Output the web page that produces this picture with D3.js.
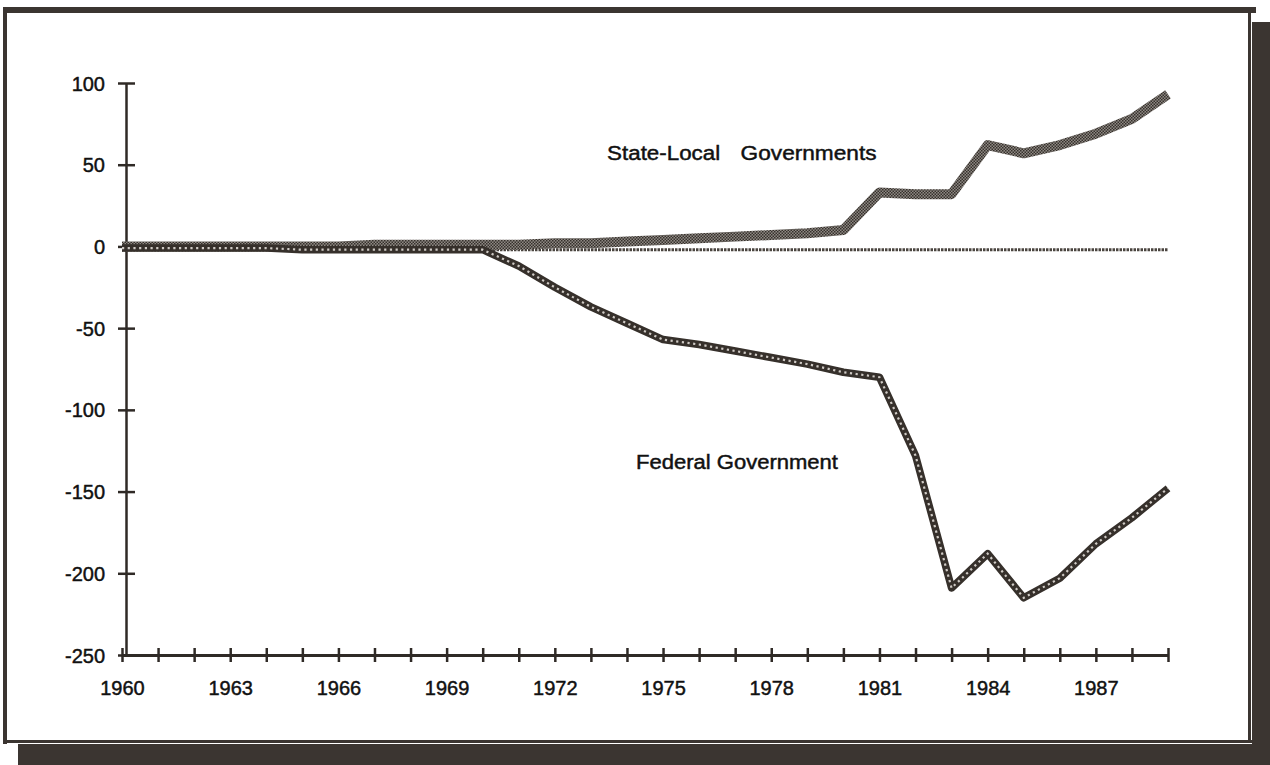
<!DOCTYPE html>
<html>
<head>
<meta charset="utf-8">
<script src="https://cdn.jsdelivr.net/npm/d3@7"></script>
<style>
  html, body { margin: 0; padding: 0; background: #ffffff; }
  svg { display: block; }
  text { font-family: "Liberation Sans", Arial, Helvetica, sans-serif; fill: #111; }
</style>
</head>
<body>
<svg id="chart" width="1270" height="765"></svg>
<script>
// ---- data (billions of dollars) ----
const years = d3.range(1960, 1990);
const federal = [-1, -1, -1, -1, -1, -2, -2, -2, -2, -2,
                 -2, -12, -25, -37, -47, -57, -60, -64, -68, -72,
                 -77, -80, -128, -209, -188, -215, -203, -182, -166, -148];
const stateLocal = [0, 0, 0, 0, 0, 0, 0, 1, 1, 1,
                    1, 1, 2, 2, 3, 4, 5, 6, 7, 8,
                    10, 33, 32, 32, 62, 57, 62, 69, 78, 93];
const referenceLine = [-2, -2];           // thin near-zero line, start/end
const referenceYears = [1960, 1989];
const yTicks = [100, 50, 0, -50, -100, -150, -200, -250];
const xLabelYears = [1960, 1963, 1966, 1969, 1972, 1975, 1978, 1981, 1984, 1987];
const seriesLabels = [
  { text: "State-Local", year: 1973.45, value: 53, len: 113 },
  { text: "Governments", year: 1977.15, value: 53, len: 136 },
  { text: "Federal Government", year: 1974.25, value: -136, len: 202 }
];

// ---- layout ----
const svg = d3.select("#chart");
const x = d3.scaleLinear().domain([1960, 1989]).range([122, 1168]);
const y = d3.scaleLinear().domain([-250, 100]).range([655, 83]);
const frameColor = "#3b3531";
const textStyle = sel => sel
  .style("font-size", "20px")
  .style("font-family", "'Liberation Sans', Arial, sans-serif")
  .attr("fill", "#111").attr("stroke", "#111").attr("stroke-width", 0.45);

// ---- frame (scanned page border) ----
svg.append("rect").attr("x", 5).attr("y", 7).attr("width", 1251).attr("height", 6).attr("fill", frameColor);
svg.append("rect").attr("x", 3).attr("y", 7).attr("width", 4).attr("height", 737).attr("fill", frameColor);
svg.append("rect").attr("x", 3).attr("y", 740).attr("width", 1252).attr("height", 3).attr("fill", frameColor);
svg.append("rect").attr("x", 18).attr("y", 744).attr("width", 1252).attr("height", 21).attr("fill", frameColor);
svg.append("rect").attr("x", 1252).attr("y", 22).attr("width", 18).attr("height", 743).attr("fill", frameColor);
svg.append("rect").attr("x", 1248).attr("y", 12).attr("width", 3).attr("height", 730).attr("fill", frameColor);

// ---- patterns ----
const defs = svg.append("defs");
const pat = defs.append("pattern").attr("id", "checker")
  .attr("patternUnits", "userSpaceOnUse").attr("width", 3).attr("height", 3);
pat.append("rect").attr("width", 3).attr("height", 3).attr("fill", "#8f8984");
pat.append("rect").attr("width", 1.5).attr("height", 1.5).attr("fill", "#36312c");
pat.append("rect").attr("x", 1.5).attr("y", 1.5).attr("width", 1.5).attr("height", 1.5).attr("fill", "#36312c");

// ---- axes ----
const yAxis = d3.axisLeft(y).tickValues(yTicks).tickSize(0).tickPadding(0).tickFormat(d => String(d));
const gy = svg.append("g").attr("transform", `translate(${x(1960) + 4},0)`).call(yAxis);
gy.select(".domain").attr("stroke", "#2f2a26").attr("stroke-width", 2.5);
gy.selectAll(".tick line").remove();
gy.selectAll(".tick").append("line")
  .attr("x1", -8).attr("x2", 9).attr("stroke", "#2f2a26").attr("stroke-width", 2.5);
gy.selectAll(".tick text").attr("x", -21).attr("dy", "0.35em").call(textStyle);

const xAxis = d3.axisBottom(x).tickValues(years).tickSize(0).tickPadding(0)
  .tickFormat(d => xLabelYears.includes(d) ? String(d) : "");
const gx = svg.append("g").attr("transform", `translate(0,${y(-250)})`).call(xAxis);
gx.select(".domain").attr("stroke", "#2f2a26").attr("stroke-width", 3);
gx.selectAll(".tick line").remove();
gx.selectAll(".tick").append("line")
  .attr("y1", -7).attr("y2", 7).attr("stroke", "#2f2a26").attr("stroke-width", 2.5);
gx.selectAll(".tick text").attr("y", 40).attr("dy", 0).call(textStyle);

// ---- reference line near zero ----
const refData = referenceYears.map((yr, i) => ({ yr, v: referenceLine[i] }));
svg.append("path").datum(refData)
  .attr("d", d3.line().x(d => x(d.yr)).y(d => y(d.v)))
  .attr("fill", "none").attr("stroke", "#4a443f").attr("stroke-width", 3)
  .attr("stroke-dasharray", "2.5 1");

// ---- series ----
const fedData = years.map((yr, i) => ({ yr, v: federal[i] }));
const slData = years.map((yr, i) => ({ yr, v: stateLocal[i] }));
const line = d3.line().x(d => x(d.yr)).y(d => y(d.v));

// state-local (checkered grey thick line)
svg.append("path").datum(slData)
  .attr("d", line).attr("fill", "none")
  .attr("stroke", "url(#checker)").attr("stroke-width", 10)
  .attr("stroke-linejoin", "round");

// federal (chain of hollow links)
svg.append("path").datum(fedData)
  .attr("d", line).attr("fill", "none")
  .attr("stroke", "#36302b").attr("stroke-width", 7.5)
  .attr("stroke-linejoin", "round");
svg.append("path").datum(fedData)
  .attr("d", line).attr("fill", "none")
  .attr("stroke", "#cfcac5").attr("stroke-width", 2.2)
  .attr("stroke-dasharray", "2.2 3.5");

// ---- series labels ----
svg.selectAll("text.series").data(seriesLabels).enter().append("text")
  .attr("class", "series")
  .attr("x", d => x(d.year)).attr("y", d => y(d.value))
  .attr("textLength", d => d.len).attr("lengthAdjust", "spacingAndGlyphs")
  .call(textStyle)
  .text(d => d.text);
</script>
</body>
</html>
